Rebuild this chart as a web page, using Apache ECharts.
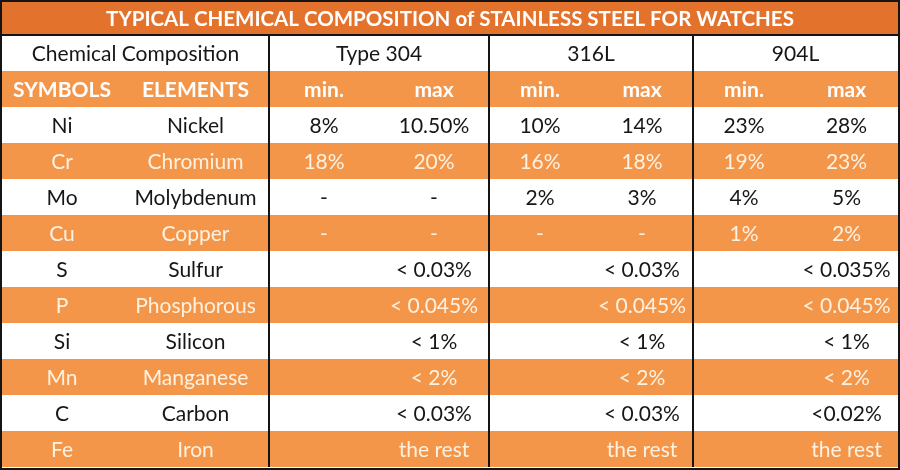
<!DOCTYPE html>
<html><head><meta charset="utf-8">
<script src="https://cdn.jsdelivr.net/npm/echarts@6/dist/echarts.min.js"></script>
<style>html,body{margin:0;padding:0;background:#fff}#c{width:900px;height:470px}</style>
</head><body><div id="c"></div>
<script>
// ---- data ----
const title = 'TYPICAL CHEMICAL COMPOSITION of STAINLESS STEEL FOR WATCHES';
const headerLeft = 'Chemical Composition';
const grades = ['Type 304', '316L', '904L'];
const subHeaders = ['SYMBOLS', 'ELEMENTS', 'min.', 'max', 'min.', 'max', 'min.', 'max'];
const symbols = ['Ni', 'Cr', 'Mo', 'Cu', 'S', 'P', 'Si', 'Mn', 'C', 'Fe'];
const elements = ['Nickel', 'Chromium', 'Molybdenum', 'Copper', 'Sulfur', 'Phosphorous', 'Silicon', 'Manganese', 'Carbon', 'Iron'];
const type304Min = ['8%', '18%', '-', '-', '', '', '', '', '', ''];
const type304Max = ['10.50%', '20%', '-', '-', '< 0.03%', '< 0.045%', '< 1%', '< 2%', '< 0.03%', 'the rest'];
const l316Min = ['10%', '16%', '2%', '-', '', '', '', '', '', ''];
const l316Max = ['14%', '18%', '3%', '-', '< 0.03%', '< 0.045%', '< 1%', '< 2%', '< 0.03%', 'the rest'];
const l904Min = ['23%', '19%', '4%', '1%', '', '', '', '', '', ''];
const l904Max = ['28%', '23%', '5%', '2%', '< 0.035%', '< 0.045%', '< 1%', '< 2%', '<0.02%', 'the rest'];

// ---- layout ----
const colEdges = [2, 122, 269, 379, 489, 591, 693, 795, 898];
const rowTop = 2, titleBottom = 35, rowH = 36;
const rowEdge = r => titleBottom + r * rowH; // r = 0 -> header row
const C = {
  titleBg: '#E3732C', orange: '#F4964A', white: '#FFFFFF',
  dark: '#161616', cream: '#FFF1E0', line: '#141414'
};
const FONT = 'Lato';
const BODY = 21, TITLE = 20.5;

// ---- build cells ----
const cells = [];
cells.push({ v: [colEdges[0], colEdges[8], rowTop, titleBottom], text: title, bg: C.titleBg, color: '#FFFFFF', bold: true, size: TITLE });
cells.push({ v: [colEdges[0], colEdges[2], rowEdge(0), rowEdge(1)], text: headerLeft, bg: C.white, color: C.dark });
grades.forEach((g, i) => {
  cells.push({ v: [colEdges[2 + 2 * i], colEdges[4 + 2 * i], rowEdge(0), rowEdge(1)], text: g, bg: C.white, color: C.dark });
});
subHeaders.forEach((s, i) => {
  cells.push({ v: [colEdges[i], colEdges[i + 1], rowEdge(1), rowEdge(2)], text: s, bg: C.orange, color: '#FFFFFF', bold: true });
});
const columns = [symbols, elements, type304Min, type304Max, l316Min, l316Max, l904Min, l904Max];
symbols.forEach((_, r) => {
  const orange = r % 2 === 1;
  columns.forEach((col, c) => {
    cells.push({
      v: [colEdges[c], colEdges[c + 1], rowEdge(2 + r), rowEdge(3 + r)],
      text: col[r], bg: orange ? C.orange : C.white, color: orange ? C.cream : C.dark
    });
  });
});

const lines = [
  [colEdges[0], colEdges[8], titleBottom, titleBottom],
  [colEdges[2], colEdges[2], titleBottom, rowEdge(12)],
  [colEdges[4], colEdges[4], titleBottom, rowEdge(12)],
  [colEdges[6], colEdges[6], titleBottom, rowEdge(12)]
];

const chart = echarts.init(document.getElementById('c'), null, { renderer: 'canvas' });
chart.setOption({
  animation: false,
  backgroundColor: '#ffffff',
  grid: { left: 0, right: 0, top: 0, bottom: 0 },
  xAxis: { type: 'value', min: 0, max: 900, show: false },
  yAxis: { type: 'value', min: 0, max: 470, inverse: true, show: false },
  series: [
    {
      type: 'custom',
      data: cells.map(c => c.v),
      renderItem: (params, api) => {
        const cell = cells[params.dataIndex];
        const p0 = api.coord([api.value(0), api.value(2)]);
        const p1 = api.coord([api.value(1), api.value(3)]);
        return {
          type: 'group',
          children: [
            { type: 'rect', shape: { x: p0[0], y: p0[1], width: p1[0] - p0[0], height: p1[1] - p0[1] }, style: { fill: cell.bg } },
            { type: 'text', x: (p0[0] + p1[0]) / 2, y: (p0[1] + p1[1]) / 2 + 1,
              style: { text: cell.text, fill: cell.color, align: 'center', verticalAlign: 'middle',
                font: (cell.bold ? 'bold ' : '') + (cell.size || BODY) + 'px ' + FONT } }
          ]
        };
      }
    },
    {
      type: 'custom',
      data: lines,
      z: 5,
      renderItem: (params, api) => {
        const p0 = api.coord([api.value(0), api.value(2)]);
        const p1 = api.coord([api.value(1), api.value(3)]);
        return { type: 'line', shape: { x1: p0[0], y1: p0[1], x2: p1[0], y2: p1[1] }, style: { stroke: C.line, lineWidth: 2 } };
      }
    },
    {
      type: 'custom',
      data: [[1, 899, 1, 469]],
      z: 6,
      renderItem: (params, api) => {
        const p0 = api.coord([api.value(0), api.value(2)]);
        const p1 = api.coord([api.value(1), api.value(3)]);
        return { type: 'rect', shape: { x: p0[0], y: p0[1], width: p1[0] - p0[0], height: p1[1] - p0[1] }, style: { fill: 'none', stroke: C.line, lineWidth: 2 } };
      }
    }
  ]
});
</script></body></html>
